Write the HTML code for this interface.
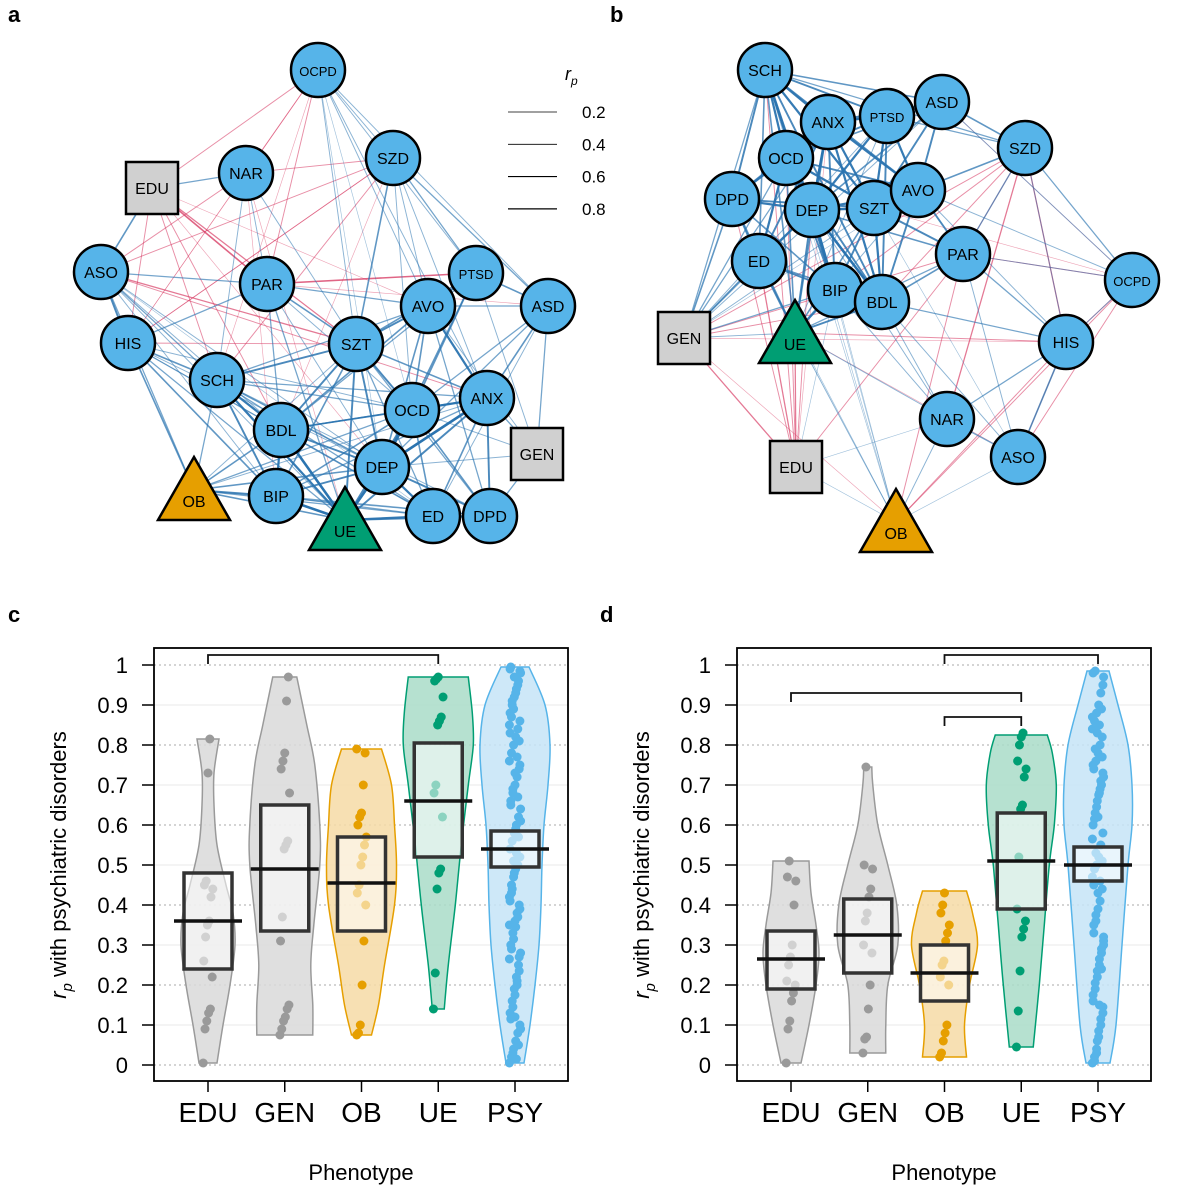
<!DOCTYPE html>
<html><head><meta charset="utf-8">
<style>
body{margin:0;background:#fff;}
svg{display:block;font-family:"Liberation Sans",Arial,sans-serif;}
</style></head>
<body>
<svg id="fig" width="1200" height="1200" viewBox="0 0 1200 1200" xmlns="http://www.w3.org/2000/svg">
<text x="8" y="22" font-size="22" font-weight="bold">a</text>
<text x="610" y="22" font-size="22" font-weight="bold">b</text>
<text x="8" y="622" font-size="22" font-weight="bold">c</text>
<text x="600" y="622" font-size="22" font-weight="bold">d</text>
<g id="netA"></g>
<g id="netB"></g>
<g id="legend">
<text x="565" y="80" font-size="18" font-style="italic">r<tspan font-size="12" dy="5">p</tspan></text>
</g>
<g id="plotC"></g>
<g id="plotD"></g>
</svg>
<script>
const NS="http://www.w3.org/2000/svg";
function mk(parent,tag,attrs){const e=document.createElementNS(NS,tag);for(const k in attrs)e.setAttribute(k,attrs[k]);parent.appendChild(e);return e;}

// ---------- Network data ----------
const nodesA=[["OCPD",318,70,"c"],["EDU",152,188,"s"],["NAR",246,173,"c"],["SZD",393,158,"c"],["ASO",101,272,"c"],["PAR",267,284,"c"],["PTSD",476,273,"c"],["AVO",428,306,"c"],["ASD",548,306,"c"],["HIS",128,343,"c"],["SZT",356,344,"c"],["SCH",217,380,"c"],["ANX",487,398,"c"],["OCD",412,410,"c"],["BDL",281,430,"c"],["GEN",537,454,"s"],["DEP",382,467,"c"],["OB",194,490,"t"],["BIP",276,496,"c"],["UE",345,520,"t"],["ED",433,516,"c"],["DPD",490,516,"c"]];
const nodesB=[["SCH",765,70,"c"],["ASD",942,102,"c"],["ANX",828,122,"c"],["PTSD",887,116,"c"],["SZD",1025,148,"c"],["OCD",786,158,"c"],["DPD",732,199,"c"],["DEP",812,210,"c"],["SZT",874,208,"c"],["AVO",918,190,"c"],["ED",759,261,"c"],["PAR",963,254,"c"],["OCPD",1132,280,"c"],["BIP",835,290,"c"],["BDL",882,302,"c"],["GEN",684,338,"s"],["UE",795,333,"t"],["HIS",1066,342,"c"],["NAR",947,419,"c"],["ASO",1018,457,"c"],["EDU",796,467,"s"],["OB",896,522,"t"]];
const edgesA="SCH-BDL:.7 SCH-BIP:.6 SCH-SZT:.6 BDL-BIP:.7 BDL-DEP:.6 DEP-ANX:.8 DEP-OCD:.8 OCD-ANX:.7 ANX-AVO:.7 AVO-PTSD:.6 PTSD-ASD:.5 ASD-ANX:.5 SZT-OCD:.6 SZT-AVO:.6 SZT-DEP:.6 ED-DEP:.7 DPD-DEP:.6 DPD-ANX:.6 ED-UE:.7 UE-BIP:.8 UE-DEP:.8 UE-BDL:.8 UE-SCH:.7 UE-OCD:.6 UE-ANX:.6 UE-DPD:.6 UE-SZT:.6 UE-PAR:.4 OB-BIP:.6 OB-BDL:.5 OB-SCH:.4 OB-HIS:.5 OB-DEP:.5 OB-ASO:.4 OB-UE:.5 HIS-ASO:.6 HIS-SCH:.5 HIS-PAR:.4 ASO-PAR:.4 ASO-EDU:.5 EDU-NAR:.4 NAR-PAR:.3 PAR-SZT:.5 PAR-AVO:.4 PAR-BDL:.4 SZD-SZT:.5 SZD-PTSD:.4 SZD-ASD:.4 OCPD-SZD:.3 OCPD-SZT:.3 OCPD-ASD:.3 OCPD-ANX:.3 OCPD-AVO:.3 OCPD-PTSD:.3 GEN-ANX:.4 GEN-ASD:.4 GEN-DPD:.4 GEN-OCD:.3 GEN-AVO:.3 GEN-PTSD:.3 GEN-DEP:.3 HIS-BIP:.5 HIS-UE:.4 ASO-UE:.3 SZT-BIP:.5 BDL-OCD:.5 AVO-OCD:.5 AVO-DEP:.5 ANX-BDL:.5 ANX-SCH:.4 PTSD-OCD:.5 PTSD-DEP:.5 PTSD-SZT:.5 ASD-OCD:.4 ASD-DEP:.4 ASD-AVO:.4 ASD-ED:.3 ED-OCD:.5 ED-ANX:.5 ED-BIP:.4 DPD-OCD:.5 DPD-BIP:.4 DPD-AVO:.4 ED-DPD:.5 SCH-DEP:.5 SCH-OCD:.4 SCH-AVO:.4 BIP-DEP:.6 BIP-OCD:.5 BIP-ANX:.4 BDL-AVO:.5 BDL-SZT:.6 BDL-PTSD:.4 HIS-BDL:.4 HIS-DEP:.3 ASO-SCH:.4 ASO-BDL:.3 ASO-BIP:.3 NAR-SCH:.3 NAR-SZT:.3 OB-OCD:.4 OB-ANX:.3 OB-ED:.4 OB-DPD:.3 HIS-ED:.2 ASO-ED:.2 OCPD-OCD:.2 OCPD-DEP:.2 SZD-AVO:.3 SZD-ANX:.3 SZD-OCD:.3 ASO-DEP:.3 HIS-OCD:.3 SCH-ED:.4 SCH-DPD:.3 BDL-ED:.5 BDL-ANX:.4 OB-SZT:.3 PAR-DEP:.3 PAR-OCD:.3 SZT-ANX:.5 SZT-ED:.4 SZT-DPD:.4";
const redA="EDU-PAR:.5 EDU-SZT:.4 EDU-BDL:.3 EDU-OCPD:.3 NAR-OCPD:.3 SZD-SCH:.3 SZD-ASO:.3 HIS-SZD:.3 PAR-PTSD:.5 ASO-ANX:.3 NAR-SZD:.3 OCPD-PAR:.3 EDU-HIS:.3 EDU-SCH:.3 SZD-HIS:.2 NAR-ASO:.3 EDU-AVO:.2 OCPD-HIS:.2 NAR-HIS:.2 SZD-BDL:.2 PAR-ASD:.2 EDU-DEP:.2 NAR-BIP:.2 OCPD-SCH:.2 NAR-UE:.2 ASO-SZT:.4 HIS-SZT:.3";
const edgesB="SCH-ANX:.7 SCH-OCD:.7 SCH-PTSD:.6 SCH-DEP:.7 SCH-SZT:.7 SCH-DPD:.6 SCH-ASD:.5 SCH-AVO:.6 SCH-BIP:.7 SCH-BDL:.6 SCH-ED:.5 SCH-SZD:.4 ANX-OCD:.8 ANX-PTSD:.8 ANX-DEP:.8 ANX-SZT:.7 ANX-AVO:.7 ANX-ASD:.6 ANX-DPD:.6 ANX-BIP:.6 ANX-BDL:.7 ANX-ED:.6 PTSD-ASD:.6 PTSD-DEP:.7 PTSD-SZT:.7 PTSD-AVO:.7 PTSD-OCD:.6 PTSD-BDL:.6 PTSD-SZD:.4 ASD-SZD:.5 ASD-AVO:.6 ASD-SZT:.6 ASD-OCD:.5 ASD-DEP:.5 OCD-DEP:.8 OCD-DPD:.7 OCD-SZT:.7 OCD-ED:.7 OCD-BIP:.6 OCD-BDL:.6 OCD-AVO:.6 DPD-DEP:.7 DPD-ED:.6 DPD-SZT:.6 DPD-BIP:.5 DEP-SZT:.8 DEP-AVO:.7 DEP-ED:.7 DEP-BIP:.8 DEP-BDL:.8 DEP-PAR:.5 SZT-AVO:.8 SZT-PAR:.6 SZT-BDL:.7 SZT-BIP:.6 AVO-PAR:.6 AVO-BDL:.6 AVO-SZD:.5 ED-BIP:.6 ED-BDL:.5 BIP-BDL:.8 PAR-BDL:.5 PAR-HIS:.4 PAR-SZD:.4 SZD-OCPD:.4 SZD-HIS:.3 OCPD-HIS:.3 OCPD-PAR:.3 OCPD-ASD:.3 OCPD-AVO:.3 HIS-BDL:.4 HIS-ASO:.5 HIS-NAR:.4 HIS-AVO:.3 ASO-NAR:.4 ASO-BDL:.3 NAR-BDL:.3 NAR-BIP:.3 NAR-DEP:.3 GEN-DPD:.5 GEN-ED:.5 GEN-OCD:.4 GEN-DEP:.4 GEN-SCH:.4 GEN-ANX:.4 GEN-BIP:.4 GEN-UE:.3 UE-BIP:.7 UE-ED:.6 UE-DEP:.6 UE-BDL:.6 UE-OCD:.5 UE-SCH:.5 UE-DPD:.5 UE-ANX:.5 UE-SZT:.5 UE-PAR:.4 OB-UE:.3 OB-EDU:.2 OB-NAR:.3 OB-BIP:.2 OB-DEP:.2 OB-SCH:.2 OB-ASO:.2 EDU-NAR:.2 EDU-BIP:.2 ASO-SZT:.2 ASO-PAR:.3 GEN-ASD:.3 GEN-PTSD:.3 GEN-SZT:.3 OB-OCD:.2 OB-ED:.2 GEN-AVO:.2 UE-AVO:.3 UE-PTSD:.3 UE-NAR:.3";
const redB="GEN-SZD:.3 GEN-PAR:.3 GEN-HIS:.2 GEN-EDU:.4 GEN-BDL:.3 EDU-ED:.4 EDU-DPD:.3 EDU-OCD:.3 EDU-SCH:.3 EDU-UE:.4 EDU-DEP:.3 EDU-PAR:.3 OB-HIS:.3 OB-PAR:.3 OB-OCPD:.3 SZD-BIP:.3 SZD-NAR:.4 SZD-BDL:.3 PAR-OCPD:.3 HIS-OCPD:.3 HIS-SZD:.4 ASO-OCPD:.3 OCPD-SZT:.2 UE-HIS:.3 UE-ASO:.2 GEN-OB:.2 EDU-ANX:.2 ASD-OCPD:.2 SZD-PAR:.3 ASO-HIS:.3";

function drawNet(g,nodes,blue,red){
  const pos={};nodes.forEach(n=>pos[n[0]]=n);
  const addEdges=(str,col)=>{str.split(" ").forEach(s=>{const [pr,w]=s.split(":");const [a,b]=pr.split("-");const A=pos[a],B=pos[b];if(!A||!B)return;const wv=+w;
    const l=mk(g,"line",{x1:A[1],y1:A[2],x2:B[1],y2:B[2],stroke:col,"stroke-width":(wv*3.2).toFixed(2),"stroke-opacity":Math.min(1,0.25+wv*1.0).toFixed(2)});
    
    });};
  addEdges(red,"#d6315c");addEdges(blue,"#2b74b0");
  nodes.forEach(n=>{const [lab,x,y,t]=n;const grp=mk(g,"g",{});
    
    
    let fs=16;
    if(t==="c"){mk(grp,"circle",{cx:x,cy:y,r:27,fill:"#56b4e9",stroke:"#000","stroke-width":2.5});if(lab.length>3)fs=13;}
    else if(t==="s"){mk(grp,"rect",{x:x-26,y:y-26,width:52,height:52,fill:"#d0d0d0",stroke:"#000","stroke-width":2.5});}
    else {const col=lab==="OB"?"#e69f00":"#009e73";mk(grp,"polygon",{points:`${x},${y-33} ${x+36},${y+30} ${x-36},${y+30}`,fill:col,stroke:"#000","stroke-width":2.5});}
    const tx=mk(grp,"text",{x:x,y:t==="t"?y+17:y+6,"text-anchor":"middle","font-size":fs});tx.textContent=lab;});
}
drawNet(document.getElementById("netA"),nodesA,edgesA,redA);
drawNet(document.getElementById("netB"),nodesB,edgesB,redB);

// legend
const legendVals=[0.2,0.4,0.6,0.8];
(function(){const g=document.getElementById("legend");legendVals.forEach((v,i)=>{const y=112+i*32.3;
  const l=mk(g,"line",{x1:508,y1:y,x2:557,y2:y,stroke:"#000","stroke-width":0.6+v*0.8});
  
  
  const t=mk(g,"text",{x:582,y:y+6,"font-size":17});t.textContent=v;});})();

// ---------- Violin data ----------
const categories=["EDU","GEN","OB","UE","PSY"];
const colors=["#9a9a9a","#9a9a9a","#e69f00","#009e73","#56b4e9"];
const fills=["#d9d9d9","#d9d9d9","#f6dba6","#a9dcc8","#c5e4f7"];
const yTicks=[0,0.1,0.2,0.3,0.4,0.5,0.6,0.7,0.8,0.9,1];
const violinC=[
 [[0.005,9],[0.1,15],[0.2,22],[0.3,27],[0.38,25],[0.45,18],[0.55,9],[0.65,6],[0.73,6],[0.815,11]],
 [[0.075,28],[0.15,28],[0.25,26],[0.35,29],[0.5,35],[0.6,35],[0.75,30],[0.85,22],[0.97,12]],
 [[0.075,10],[0.15,17],[0.25,23],[0.4,33],[0.5,35],[0.6,33],[0.7,30],[0.79,20]],
 [[0.14,6],[0.25,10],[0.4,17],[0.55,23],[0.7,30],[0.8,35],[0.88,34],[0.97,30]],
 [[0.005,9],[0.1,15],[0.2,20],[0.3,24],[0.4,26],[0.5,27],[0.6,29],[0.7,33],[0.8,35],[0.9,30],[0.995,14]]
];
const violinD=[
 [[0.005,10],[0.1,18],[0.2,25],[0.28,28],[0.35,25],[0.43,20],[0.51,18]],
 [[0.03,18],[0.1,18],[0.2,20],[0.3,30],[0.4,29],[0.5,20],[0.6,10],[0.7,5],[0.745,4]],
 [[0.02,22],[0.1,20],[0.2,25],[0.3,33],[0.38,28],[0.435,22]],
 [[0.045,12],[0.2,18],[0.35,23],[0.5,28],[0.6,33],[0.7,35],[0.78,31],[0.825,26]],
 [[0.005,12],[0.1,18],[0.3,24],[0.5,30],[0.6,34],[0.7,34],[0.8,30],[0.9,20],[0.985,11]]
];
const boxC=[[0.24,0.36,0.48],[0.335,0.49,0.65],[0.335,0.455,0.57],[0.52,0.66,0.805],[0.495,0.54,0.585]];
const boxD=[[0.19,0.265,0.335],[0.23,0.325,0.415],[0.16,0.23,0.30],[0.39,0.51,0.63],[0.46,0.50,0.545]];
const pointsC=[
 [0.005,0.09,0.11,0.13,0.14,0.22,0.26,0.32,0.35,0.36,0.42,0.44,0.45,0.46,0.73,0.815],
 [0.075,0.09,0.11,0.12,0.14,0.15,0.31,0.37,0.54,0.55,0.56,0.68,0.74,0.76,0.78,0.91,0.97],
 [0.075,0.08,0.1,0.2,0.31,0.4,0.43,0.45,0.5,0.52,0.55,0.57,0.6,0.62,0.63,0.7,0.78,0.79],
 [0.14,0.23,0.44,0.48,0.49,0.62,0.68,0.7,0.85,0.86,0.87,0.92,0.96,0.965,0.97],
 [0.005,0.02,0.04,0.06,0.08,0.1,0.13,0.16,0.19,0.22,0.25,0.28,0.3,0.33,0.36,0.38,0.4,0.42,0.45,0.47,0.49,0.5,0.52,0.54,0.56,0.58,0.6,0.62,0.64,0.66,0.68,0.7,0.72,0.74,0.76,0.78,0.8,0.82,0.84,0.86,0.88,0.9,0.92,0.94,0.96,0.98,0.995,0.03,0.12,0.2,0.27,0.35,0.43,0.51,0.59,0.67,0.75,0.83,0.91,0.97,0.015,0.05,0.09,0.115,0.145,0.175,0.21,0.235,0.265,0.29,0.315,0.345,0.37,0.39,0.41,0.44,0.48,0.53,0.57,0.61,0.65,0.69,0.73,0.77,0.81,0.85,0.87,0.89,0.93,0.95,0.985,0.99]
];
const pointsD=[
 [0.005,0.09,0.11,0.16,0.18,0.2,0.21,0.25,0.27,0.3,0.4,0.46,0.47,0.51],
 [0.03,0.065,0.07,0.14,0.2,0.28,0.3,0.36,0.38,0.42,0.44,0.49,0.5,0.745],
 [0.02,0.03,0.06,0.08,0.1,0.2,0.22,0.25,0.26,0.31,0.33,0.35,0.38,0.4,0.43],
 [0.045,0.135,0.235,0.32,0.34,0.36,0.39,0.52,0.64,0.65,0.72,0.74,0.76,0.8,0.82,0.83],
 [0.005,0.02,0.04,0.07,0.1,0.13,0.16,0.19,0.22,0.25,0.28,0.3,0.33,0.36,0.39,0.41,0.44,0.47,0.49,0.5,0.52,0.55,0.58,0.6,0.63,0.66,0.68,0.7,0.72,0.74,0.76,0.78,0.8,0.82,0.84,0.86,0.88,0.9,0.93,0.95,0.98,0.985,0.06,0.15,0.24,0.31,0.45,0.53,0.62,0.69,0.77,0.87,0.01,0.03,0.085,0.115,0.145,0.175,0.205,0.235,0.265,0.29,0.32,0.35,0.375,0.43,0.46,0.51,0.565,0.615,0.645,0.675,0.71,0.73,0.75,0.79,0.83,0.85,0.89,0.97]
];
const bracketsC=[[0,3,0]];
const bracketsD=[[2,4,0],[0,3,1],[2,3,2]];

function smoothSide(pts){ // pts: [[x,y],...] -> catmull-rom path segments (no M)
  let d="";
  for(let i=0;i<pts.length-1;i++){const p0=pts[Math.max(0,i-1)],p1=pts[i],p2=pts[i+1],p3=pts[Math.min(pts.length-1,i+2)];
    const c1=[p1[0]+(p2[0]-p0[0])/6,p1[1]+(p2[1]-p0[1])/6],c2=[p2[0]-(p3[0]-p1[0])/6,p2[1]-(p3[1]-p1[1])/6];
    d+=` C${c1[0].toFixed(1)},${c1[1].toFixed(1)} ${c2[0].toFixed(1)},${c2[1].toFixed(1)} ${p2[0].toFixed(1)},${p2[1].toFixed(1)}`;}
  return d;
}

function drawPlot(g,left,violins,boxes,points,brackets){
  const right=left+414,top=648,bottom=1081;
  const X=i=>left+54+i*76.75, Y=v=>1065-v*400;
  yTicks.forEach((v,i)=>{const l=mk(g,"line",{x1:left,x2:right,y1:Y(v),y2:Y(v),stroke:i%2===0?"#bbb":"#eee","stroke-width":1.2,"stroke-dasharray":i%2===0?"2,3":""});
    
    
    const t=mk(g,"line",{x1:left-12,x2:left,y1:Y(v),y2:Y(v),stroke:"#000","stroke-width":1.5});
    
    
    const tl=mk(g,"text",{x:left-26,y:Y(v)+8,"font-size":22,"text-anchor":"end"});tl.textContent=v;
    
    });
  categories.forEach((c,i)=>{const cx=X(i);
    const prof=violins[i];
    const rs=prof.map(q=>[cx+q[1],Y(q[0])]);
    const ls=prof.slice().reverse().map(q=>[cx-q[1],Y(q[0])]);
    const d=`M${rs[0][0]},${rs[0][1]}`+smoothSide(rs)+` L${ls[0][0]},${ls[0][1]}`+smoothSide(ls)+" Z";
    const v=mk(g,"path",{d:d,fill:fills[i],"fill-opacity":0.85,stroke:colors[i],"stroke-width":1.5});
    
    
    points[i].forEach((val,k)=>{const jit=((k*37)%17-8)*(i===4?0.7:0.6);
      const dd=mk(g,"circle",{cx:cx+jit,cy:Y(val),r:4.5,fill:colors[i]});
      
      });
    const b=boxes[i];
    const r=mk(g,"rect",{x:cx-24,y:Y(b[2]),width:48,height:Y(b[0])-Y(b[2]),fill:"#fff","fill-opacity":0.55,stroke:"#333","stroke-width":3.5});
    
    
    const m=mk(g,"line",{x1:cx-34,x2:cx+34,y1:Y(b[1]),y2:Y(b[1]),stroke:"#111","stroke-width":3.5});
    
    
    const t=mk(g,"line",{x1:cx,x2:cx,y1:bottom,y2:bottom+11,stroke:"#000","stroke-width":1.5});
    
    
    const tl=mk(g,"text",{x:cx,y:1122,"font-size":28,"text-anchor":"middle"});tl.textContent=c;
    
    });
  brackets.forEach(br=>{const y=655+br[2]*(br[2]===1?38:31);const x1=X(br[0]),x2=X(br[1]);
    const pl=mk(g,"polyline",{points:`${x1},${y+9} ${x1},${y} ${x2},${y} ${x2},${y+9}`,fill:"none",stroke:"#111","stroke-width":1.8});
    
    });
  const fr=mk(g,"rect",{x:left,y:top,width:414,height:bottom-top,fill:"none",stroke:"#000","stroke-width":1.8});
  
  
  const xt=mk(g,"text",{x:left+207,y:1180,"font-size":22,"text-anchor":"middle"});xt.textContent="Phenotype";
  
  
  const yt=mk(g,"text",{x:0,y:0,"font-size":22,"text-anchor":"middle",transform:`translate(${left-88},865) rotate(-90)`});
  yt.innerHTML='<tspan font-style="italic">r</tspan><tspan font-style="italic" font-size="15" dy="6">p</tspan><tspan dy="-6"> with psychiatric disorders</tspan>';
  
  
}
drawPlot(document.getElementById("plotC"),154,violinC,boxC,pointsC,bracketsC);
drawPlot(document.getElementById("plotD"),737,violinD,boxD,pointsD,bracketsD);
</script>
</body></html>
